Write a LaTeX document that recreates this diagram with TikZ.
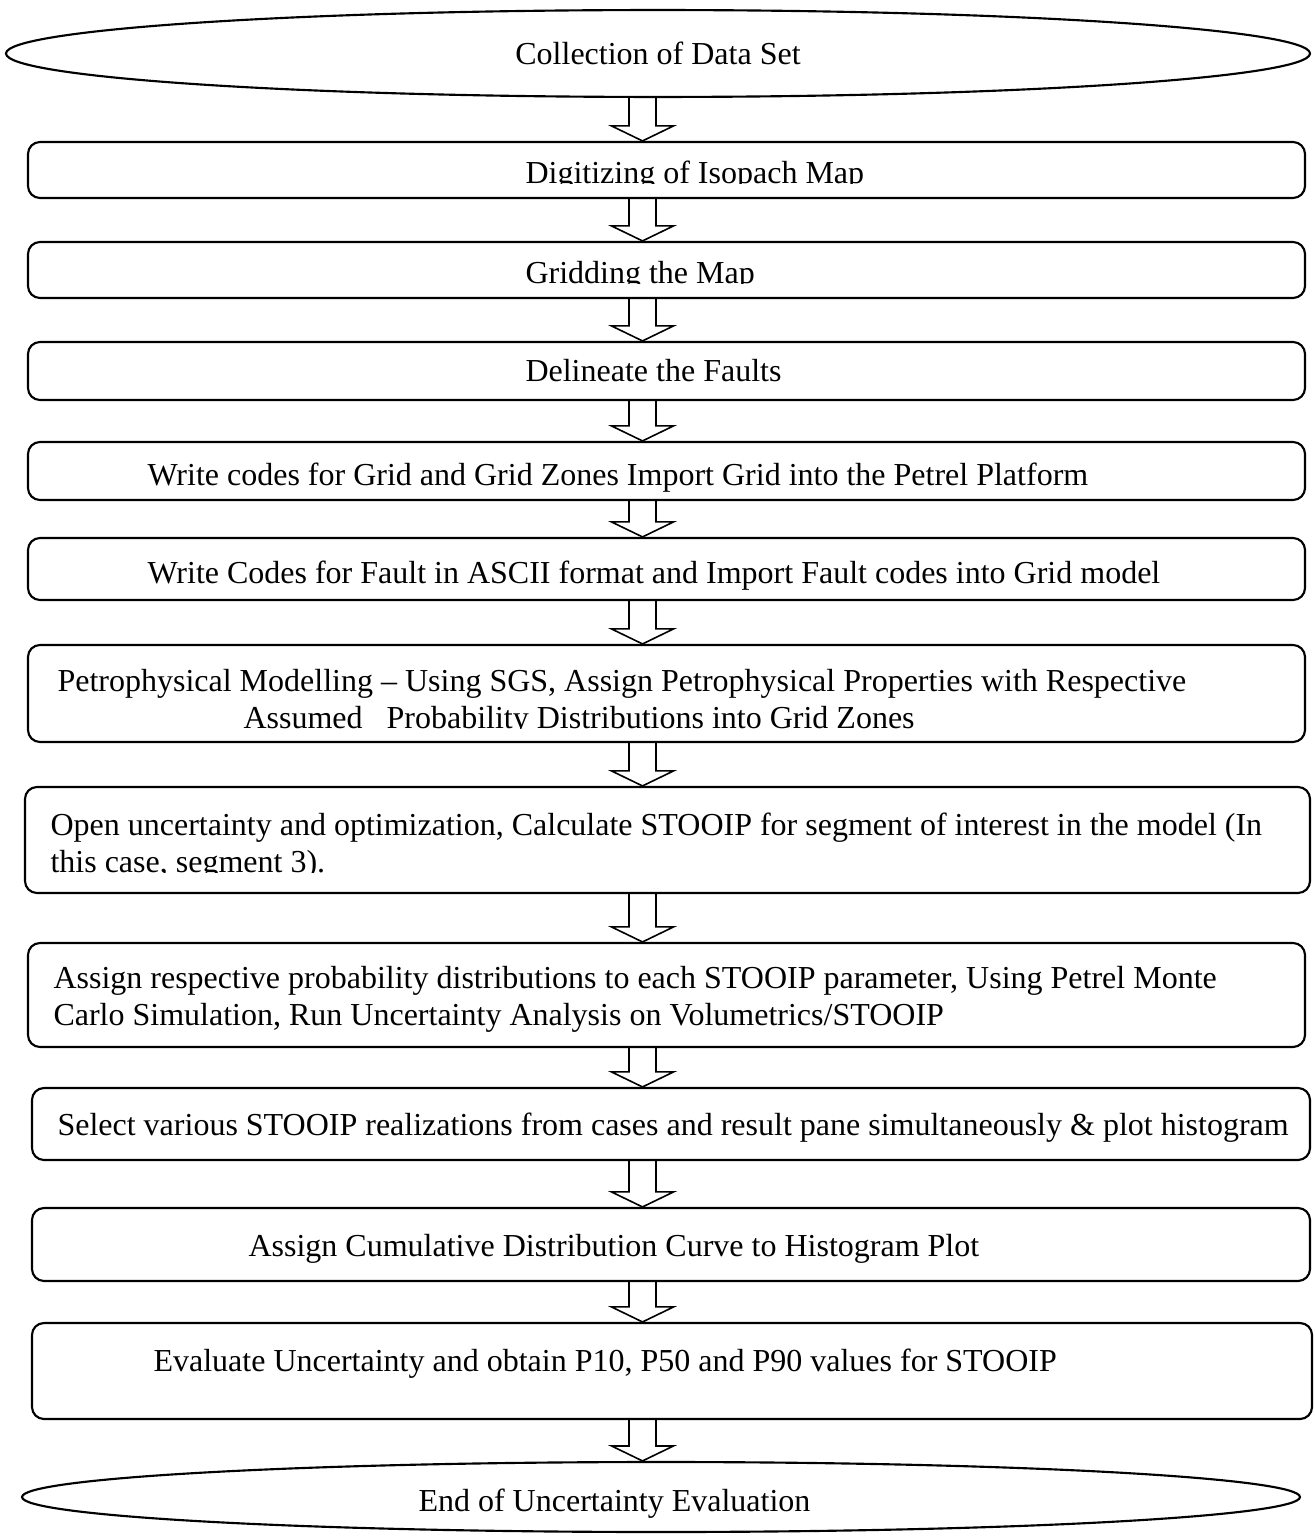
\documentclass[tikz,border=0pt]{standalone}
\usepackage{fontspec}
\setmainfont{Liberation Serif}
\usetikzlibrary{shapes.geometric,fit,calc}

% outlined block arrow from the bottom of #1 to the top of #2
\newcommand\fatarrow[2]{%
  \draw[fat arrow] ($(#1.south -| axis)+(-13.5,0)$) -- ($(#2.north -| axis)+(-13.5,-15)$)
    -- ($(#2.north -| axis)+(-31,-15)$) -- (#2.north -| axis)
    -- ($(#2.north -| axis)+(31,-15)$) -- ($(#2.north -| axis)+(13.5,-15)$)
    -- ($(#1.south -| axis)+(13.5,0)$);}

\begin{document}
\begin{tikzpicture}[x=0.375pt,y=-0.375pt,
    stepbox/.style={draw,rounded corners=4.5pt,line width=0.8pt,inner sep=0pt},
    oval/.style={draw,ellipse,line width=0.8pt,inner sep=0pt,font=\fontsize{12}{13.9}\selectfont},
    txt/.style={anchor=base west,inner sep=0pt,font=\fontsize{12}{13.9}\selectfont},
    fat arrow/.style={line width=0.6pt,line join=miter}]
    \useasboundingbox (0,0) rectangle (1314,1537);
    \coordinate (axis) at (642.5,0);

    % start and end
    \node[oval,minimum width=489pt,minimum height=32.6pt] (e1) at (658,53.5) {Collection of Data Set};
    \node[oval,minimum width=479.25pt,minimum height=26.25pt] (e2) at (661,1497) {};
    \node[txt] (t12) at (418,1511) {End of Uncertainty Evaluation};

    % boxes
    \node[stepbox,fit={(28,142) (1305,198)}] (b1) {};
    \node[stepbox,fit={(28,242) (1305,298)}] (b2) {};
    \node[stepbox,fit={(28,342) (1305,400)}] (b3) {};
    \node[stepbox,fit={(28,442) (1305,500)}] (b4) {};
    \node[stepbox,fit={(28,538) (1305,600)}] (b5) {};
    \node[stepbox,fit={(28,645) (1305,742)}] (b6) {};
    \node[stepbox,fit={(25,787) (1310,893)}] (b7) {};
    \node[stepbox,fit={(28,943) (1305,1047)}] (b8) {};
    \node[stepbox,fit={(32,1088) (1310,1160)}] (b9) {};
    \node[stepbox,fit={(32,1208) (1310,1281)}] (b10) {};
    \node[stepbox,fit={(32,1323) (1312,1419)}] (b11) {};

    % texts
    \begin{scope}
        \clip (28,142) rectangle (1305,184);
        \node[txt] (t1) at (525,184) {Digitizing of Isopach Map};
    \end{scope}
    \begin{scope}
        \clip (28,242) rectangle (1305,284);
        \node[txt] (t2) at (525,284) {Gridding the Map};
    \end{scope}
    \node[txt] (t3) at (525,381) {Delineate the Faults};
    \node[txt] (t4) at (147,485) {Write codes for Grid and Grid Zones Import Grid into the Petrel Platform};
    \node[txt] (t5) at (147,583) {Write Codes for Fault in ASCII format and Import Fault codes into Grid model};
    \node[txt] (t6a) at (57,691) {Petrophysical Modelling – Using SGS, Assign Petrophysical Properties with Respective};
    \begin{scope}
        \clip (28,700) rectangle (1305,728);
        \node[txt] (t6b) at (243,728) {Assumed\ \ \ Probability Distributions into Grid Zones};
    \end{scope}
    \node[txt] (t7a) at (50,835) {Open uncertainty and optimization, Calculate STOOIP for segment of interest in the model (In};
    \begin{scope}
        \clip (25,845) rectangle (1310,872);
        \node[txt] (t7b) at (50,872) {this case, segment 3).};
    \end{scope}
    \node[txt] (t8a) at (53,988) {Assign respective probability distributions to each STOOIP parameter, Using Petrel Monte};
    \node[txt] (t8b) at (53,1025) {Carlo Simulation, Run Uncertainty Analysis on Volumetrics/STOOIP};
    \node[txt] (t9) at (57,1135) {Select various STOOIP realizations from cases and result pane simultaneously \& plot histogram};
    \node[txt] (t10) at (248,1256) {Assign Cumulative Distribution Curve to Histogram Plot};
    \node[txt] (t11) at (153,1371) {Evaluate Uncertainty and obtain P10, P50 and P90 values for STOOIP};

    % arrows
    \fatarrow{e1}{b1}
    \fatarrow{b1}{b2}
    \fatarrow{b2}{b3}
    \fatarrow{b3}{b4}
    \fatarrow{b4}{b5}
    \fatarrow{b5}{b6}
    \fatarrow{b6}{b7}
    \fatarrow{b7}{b8}
    \fatarrow{b8}{b9}
    \fatarrow{b9}{b10}
    \fatarrow{b10}{b11}
    \fatarrow{b11}{e2}
\end{tikzpicture}
\end{document}
